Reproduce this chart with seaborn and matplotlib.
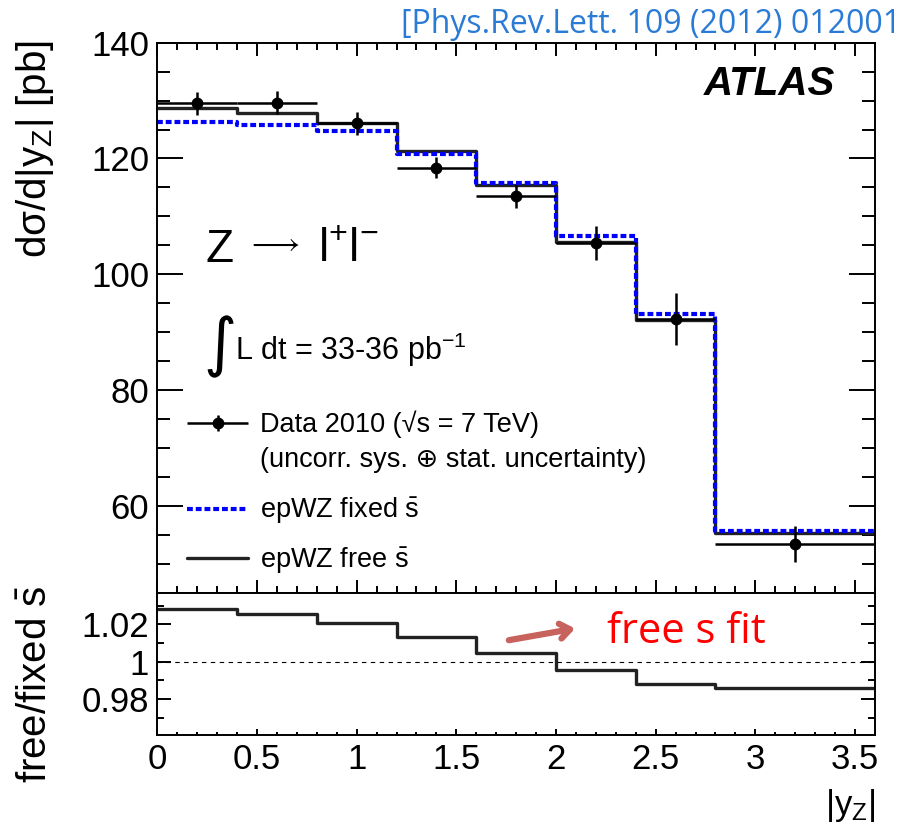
import numpy as np
import pandas as pd
import matplotlib
matplotlib.use("Agg")
import matplotlib.pyplot as plt
import seaborn as sns
from matplotlib.ticker import MultipleLocator, FuncFormatter
from matplotlib.lines import Line2D
from matplotlib.legend_handler import HandlerErrorbar
from matplotlib.container import ErrorbarContainer

# |y_Z| binning of the measurement
bin_edges = [0.0, 0.4, 0.8, 1.2, 1.6, 2.0, 2.4, 2.8, 3.6]
bin_centers = [0.2, 0.6, 1.0, 1.4, 1.8, 2.2, 2.6, 3.2]

# measured dsigma/d|y_Z| [pb] and uncorrelated uncertainty
data_xsec = [129.5, 129.6, 126.1, 118.4, 113.5, 105.4, 92.3, 53.4]
data_err = [2.0, 2.0, 2.0, 1.8, 2.0, 3.0, 4.5, 3.1]

# epWZ predictions
fixed_sbar = [126.3, 125.8, 124.8, 120.7, 115.7, 106.6, 93.1, 55.6]
free_sbar = [128.7, 127.9, 126.2, 121.3, 115.4, 105.6, 92.1, 55.3]

# free / fixed s-bar ratio
ratio_free_fixed = [1.028, 1.0257, 1.0206, 1.0134, 1.0045, 0.9955, 0.9879, 0.9857]

xticks_major = [0, 0.5, 1, 1.5, 2, 2.5, 3, 3.5]

sns.set_theme(style="ticks")
plt.rcParams["font.family"] = ["Liberation Sans", "DejaVu Sans"]
plt.rcParams["mathtext.fontset"] = "custom"
plt.rcParams["mathtext.rm"] = "Liberation Sans"
plt.rcParams["mathtext.it"] = "Liberation Sans:italic"
plt.rcParams["mathtext.bf"] = "Liberation Sans:bold"
plt.rcParams["mathtext.sf"] = "Liberation Sans"
plt.rcParams["mathtext.default"] = "regular"
plt.rcParams["mathtext.fallback"] = "stixsans"
for key in ["text.color", "axes.labelcolor", "xtick.color", "ytick.color",
            "axes.edgecolor"]:
    plt.rcParams[key] = "black"

df = pd.DataFrame({
    "y": bin_centers,
    "data": data_xsec,
    "err": data_err,
    "fixed": fixed_sbar,
    "free": free_sbar,
    "ratio": ratio_free_fixed,
})
half_width = np.diff(bin_edges) / 2.0

fig = plt.figure(figsize=(9.1, 8.27), dpi=100)
ax = fig.add_axes([0.1729, 0.2833, 0.7886, 0.6651])
rax = fig.add_axes([0.1729, 0.1112, 0.7886, 0.1721])

line_black = "#222222"
blue = "#0000ff"

# ---- upper panel: cross section ----
sns.histplot(data=df, x="y", weights="free", bins=bin_edges, element="step",
             fill=False, color=line_black, linewidth=2.4, ax=ax)
free_line = ax.lines[-1]
sns.histplot(data=df, x="y", weights="fixed", bins=bin_edges, element="step",
             fill=False, color=blue, linewidth=3.0, linestyle=(0, (1.4, 0.7)),
             ax=ax)
fixed_line = ax.lines[-1]

data_cont = ax.errorbar(df["y"], df["data"], xerr=half_width, yerr=df["err"],
                        fmt="o", color="black", ms=7.5, elinewidth=1.8,
                        capsize=0, zorder=5)

ax.set_xlim(0, 3.6)
ax.set_ylim(45, 140)
ax.set_xlabel("")
ax.set_ylabel("")
ax.xaxis.set_major_locator(MultipleLocator(0.5))
ax.xaxis.set_minor_locator(MultipleLocator(0.1))
ax.yaxis.set_major_locator(MultipleLocator(20))
ax.yaxis.set_minor_locator(MultipleLocator(5))
ax.yaxis.set_major_formatter(FuncFormatter(lambda v, p: f"{v:g}"))
ax.tick_params(which="both", direction="in", top=True, right=True,
               labelbottom=False, width=1.4, color="black")
ax.tick_params(axis="y", which="major", length=18.7, labelsize=25, pad=6)
ax.tick_params(axis="y", which="minor", length=9.4)
ax.tick_params(axis="x", which="major", length=9.4)
ax.tick_params(axis="x", which="minor", length=5)
for s in ax.spines.values():
    s.set_linewidth(1.4)
    s.set_color("black")

ax.text(0.944, 0.905, "ATLAS", transform=ax.transAxes, ha="right",
        va="baseline", fontsize=29, fontweight="bold", fontstyle="italic")

# Z -> l+ l- process label
ax.text(0.0665, 0.602, "Z", transform=ax.transAxes, ha="left",
        va="baseline", fontsize=33, fontstyle="normal")
ax.text(0.124, 0.634, r"$\longrightarrow$", transform=ax.transAxes,
        ha="left", va="center", fontsize=22)
ax.text(0.2239, 0.602, r"l$^{+}$l$^{-}$", transform=ax.transAxes, ha="left",
        va="baseline", fontsize=33)

ax.text(0.0637, 0.4476, "\u222b", transform=ax.transAxes, ha="left",
        va="center", fontsize=46, family="DejaVu Sans")
ax.text(0.108, 0.423, r"L dt = 33-36 pb$^{-1}$", transform=ax.transAxes,
        ha="left", va="baseline", fontsize=22)

blank = Line2D([], [], alpha=0)
leg_a = ax.legend([data_cont, blank],
                  ["Data 2010 (\u221as = 7 TeV)",
                   "(uncorr. sys. \u2295 stat. uncertainty)"],
                  loc="center left", bbox_to_anchor=(0.041, 0.274),
                  frameon=False, fontsize=19.5, handlelength=2.27,
                  handletextpad=0.43, labelspacing=0.32, borderpad=0,
                  borderaxespad=0,
                  handler_map={ErrorbarContainer:
                               HandlerErrorbar(xerr_size=1.13, yerr_size=0.3,
                                               numpoints=1)})
ax.add_artist(leg_a)
ax.legend([fixed_line, free_line],
          ["epWZ fixed $\\mathrm{\\bar{s}}$", "epWZ free $\\mathrm{\\bar{s}}$"],
          loc="center left", bbox_to_anchor=(0.041, 0.103), frameon=False,
          fontsize=19.5, handlelength=2.27, handletextpad=0.43,
          labelspacing=0.71, borderpad=0, borderaxespad=0)

# ---- lower panel: ratio ----
sns.histplot(data=df, x="y", weights="ratio", bins=bin_edges, element="step",
             fill=False, color=line_black, linewidth=2.4, ax=rax)
rax.axhline(1.0, color="black", linewidth=0.8, linestyle=(0, (4, 4)))
rax.set_xlim(0, 3.6)
rax.set_ylim(0.9607, 1.037)
rax.set_xlabel("")
rax.set_ylabel("")
rax.set_xticks(xticks_major)
rax.xaxis.set_minor_locator(MultipleLocator(0.1))
rax.yaxis.set_major_locator(MultipleLocator(0.02))
rax.yaxis.set_minor_locator(MultipleLocator(0.01))
fmt = FuncFormatter(lambda v, p: f"{v:g}")
rax.xaxis.set_major_formatter(fmt)
rax.yaxis.set_major_formatter(fmt)
rax.tick_params(which="both", direction="in", top=False, right=True,
                width=1.4, color="black")
rax.tick_params(axis="y", which="major", length=10, labelsize=25, pad=6)
rax.tick_params(axis="y", which="minor", length=5)
rax.tick_params(axis="x", which="major", length=4.5, labelsize=25, pad=6)
rax.tick_params(axis="x", which="minor", length=2.2)
for s in rax.spines.values():
    s.set_linewidth(1.4)
    s.set_color("black")

rax.annotate("", xy=(0.586, 0.752), xytext=(0.486, 0.663),
             xycoords="axes fraction", textcoords="axes fraction",
             arrowprops=dict(arrowstyle="->,head_length=0.6,head_width=0.45",
                             lw=4.5, color="#c8625c"))
rax.text(0.626, 0.646, "free s fit", transform=rax.transAxes, ha="left",
         va="baseline", fontsize=30, color="red", family="Open Sans")

# ---- axis titles and reference ----
fig.text(35 / 910, 1 - 40 / 827, r"d$\mathrm{\sigma}$/d|y$_\mathrm{Z}$| [pb]",
         rotation=90, ha="center", va="top", fontsize=29)
fig.text(35 / 910, 1 - 586 / 827, r"free/fixed $\mathrm{\bar{s}}$",
         rotation=90, ha="center", va="top", fontsize=29)
fig.text(876 / 910, 1 - 787 / 827, r"|y$_\mathrm{Z}$|", ha="right", va="top",
         fontsize=25)
fig.text(901 / 910, 1 - 33 / 827, "[Phys.Rev.Lett. 109 (2012) 012001",
         ha="right", va="baseline", color="#2a7bd5", fontsize=23,
         family="Open Sans")

fig.savefig("out.png", dpi=100)
